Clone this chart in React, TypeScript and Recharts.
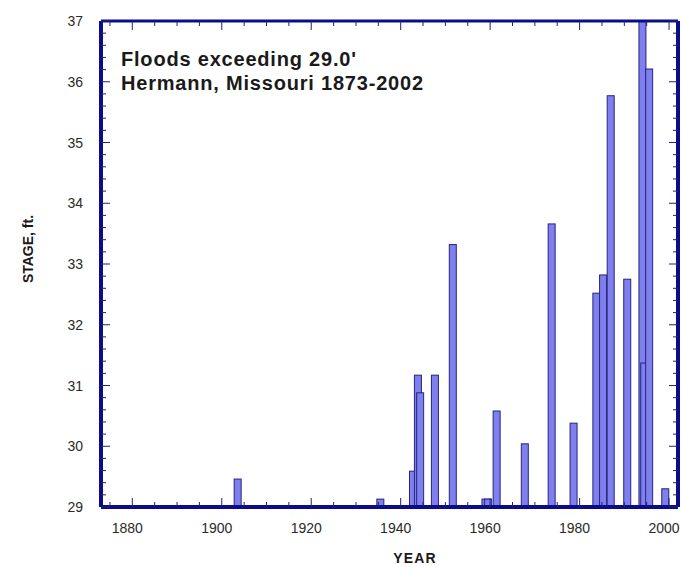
import { BarChart, Bar, XAxis, YAxis } from "recharts";

// flood crests (year position, stage in ft)
const floodYears = [
  1903.6, 1935.5, 1942.8, 1943.9, 1944.4, 1947.7, 1951.7, 1959.0, 1959.6, 1961.5, 1967.8,
  1973.8, 1978.7, 1983.8, 1985.3, 1987.0, 1990.7, 1994.1, 1994.5, 1995.6, 1999.2,
];
const floodStages = [
  29.46, 29.13, 29.59, 31.17, 30.88, 31.17, 33.32, 29.13, 29.13, 30.58, 30.04,
  33.66, 30.38, 32.52, 32.82, 35.77, 32.75, 37.0, 31.37, 36.21, 29.3,
];

const yearLabels = [1880, 1900, 1920, 1940, 1960, 1980, 2000];
const stageLabels = [29, 30, 31, 32, 33, 34, 35, 36, 37];

const YEAR_DOMAIN: [number, number] = [1873, 2002];
const STAGE_DOMAIN: [number, number] = [29, 37];

// minor ticks: every 5 years, every 0.2 ft
const yearTicks = Array.from({ length: 26 }, (_, i) => 1875 + i * 5);
const stageTicks = Array.from({ length: 41 }, (_, i) => +(29 + i * 0.2).toFixed(1));

const data = floodYears.map((year, i) => ({ year, stage: floodStages[i] }));

// the chart fills the whole window, so drop the default body margin
if (typeof document !== "undefined") {
  document.body.style.margin = "0";
}

const W = 682;
const H = 567;

const BORDER = "#0c0c8a";
const TICK = "#22226e";
const BAR_FILL = "#7f7fee";
const BAR_STROKE = "#25257f";
const TEXT = "#2a2a2a";
const BAR_W = 7;

const isMajorStage = (v: number) => Math.abs(v - Math.round(v)) < 1e-6;

const BottomTick = (props: any) => {
  const { x, y, payload } = props;
  const major = yearLabels.includes(payload.value);
  return (
    <g>
      <line x1={x} y1={y} x2={x} y2={y - (major ? 9 : 5)} stroke={TICK} strokeWidth={1} />
      {major && (
        <text x={x - 5} y={y + 26} textAnchor="middle" fontSize={14} fill={TEXT}>
          {payload.value}
        </text>
      )}
    </g>
  );
};

const TopTick = (props: any) => {
  const { x, y, payload } = props;
  const major = yearLabels.includes(payload.value);
  return <line x1={x} y1={y} x2={x} y2={y + (major ? 9 : 5)} stroke={TICK} strokeWidth={1} />;
};

const LeftTick = (props: any) => {
  const { x, y, payload } = props;
  const major = isMajorStage(payload.value);
  return (
    <g>
      <line x1={x} y1={y} x2={x + (major ? 9 : 5)} y2={y} stroke={TICK} strokeWidth={1} />
      {major && stageLabels.includes(Math.round(payload.value)) && (
        <text x={x - 18} y={y + 5} textAnchor="end" fontSize={14} fill={TEXT}>
          {Math.round(payload.value)}
        </text>
      )}
    </g>
  );
};

const RightTick = (props: any) => {
  const { x, y, payload } = props;
  const major = isMajorStage(payload.value);
  return <line x1={x} y1={y} x2={x - (major ? 9 : 5)} y2={y} stroke={TICK} strokeWidth={1} />;
};

// fixed-width bar centred on the scaled year
const FloodBar = (props: any) => {
  const { x, y, width, height } = props;
  if (height == null || height <= 0) return null;
  return (
    <rect
      x={x + width / 2 - BAR_W / 2}
      y={y}
      width={BAR_W}
      height={height}
      fill={BAR_FILL}
      stroke={BAR_STROKE}
      strokeWidth={1}
    />
  );
};

export default function App() {
  return (
    <div
      style={{
        position: "relative",
        width: W,
        height: H,
        overflow: "hidden",
        fontFamily: "'Liberation Sans', Arial, sans-serif",
      }}
    >
      <BarChart
        width={W}
        height={H}
        data={data}
        margin={{ top: 20, right: 3, bottom: 0, left: 0 }}
        style={{ fontFamily: "'Liberation Sans', Arial, sans-serif" }}
      >
        <XAxis
          xAxisId="bottom"
          dataKey="year"
          type="number"
          domain={YEAR_DOMAIN}
          allowDataOverflow
          ticks={yearTicks}
          interval={0}
          height={60}
          tickSize={0}
          tickMargin={0}
          tickLine={false}
          tick={BottomTick}
          axisLine={{ stroke: BORDER, strokeWidth: 4 }}
        />
        <XAxis
          xAxisId="top"
          orientation="top"
          dataKey="year"
          type="number"
          domain={YEAR_DOMAIN}
          allowDataOverflow
          ticks={yearTicks}
          interval={0}
          height={1}
          tickSize={0}
          tickMargin={0}
          tickLine={false}
          tick={TopTick}
          axisLine={{ stroke: BORDER, strokeWidth: 3 }}
        />
        <YAxis
          yAxisId="left"
          type="number"
          domain={STAGE_DOMAIN}
          allowDataOverflow
          ticks={stageTicks}
          interval={0}
          width={101}
          tickSize={0}
          tickMargin={0}
          tickLine={false}
          tick={LeftTick}
          axisLine={{ stroke: BORDER, strokeWidth: 4 }}
        />
        <YAxis
          yAxisId="right"
          orientation="right"
          type="number"
          domain={STAGE_DOMAIN}
          allowDataOverflow
          ticks={stageTicks}
          interval={0}
          width={1}
          tickSize={0}
          tickMargin={0}
          tickLine={false}
          tick={RightTick}
          axisLine={{ stroke: BORDER, strokeWidth: 4 }}
        />
        <Bar
          dataKey="stage"
          xAxisId="bottom"
          yAxisId="left"
          shape={FloodBar}
          isAnimationActive={false}
        />
        <Bar
          dataKey="stage"
          xAxisId="top"
          yAxisId="right"
          shape={() => null}
          legendType="none"
          isAnimationActive={false}
        />
      </BarChart>

      <div
        style={{
          position: "absolute",
          left: 121,
          top: 47,
          fontSize: 20,
          fontWeight: "bold",
          letterSpacing: "0.8px",
          lineHeight: "24px",
          color: "#1a1a1a",
          whiteSpace: "nowrap",
        }}
      >
        <div>Floods exceeding 29.0'</div>
        <div>Hermann, Missouri 1873-2002</div>
      </div>

      <div
        style={{
          position: "absolute",
          left: 375,
          top: 550,
          width: 80,
          textAlign: "center",
          fontSize: 14,
          fontWeight: "bold",
          letterSpacing: "1.2px",
          lineHeight: "16px",
          color: "#1a1a1a",
        }}
      >
        YEAR
      </div>

      <div
        style={{
          position: "absolute",
          left: 28,
          top: 249,
          transform: "translate(-50%, -50%) rotate(-90deg)",
          fontSize: 14,
          fontWeight: "bold",
          lineHeight: "16px",
          color: "#1a1a1a",
          whiteSpace: "nowrap",
        }}
      >
        STAGE, ft.
      </div>
    </div>
  );
}
